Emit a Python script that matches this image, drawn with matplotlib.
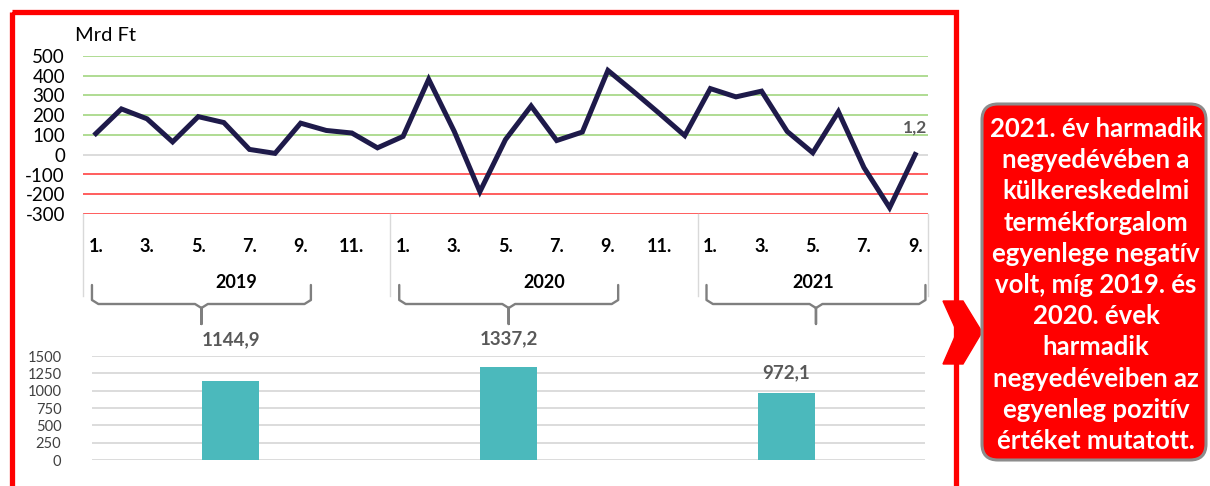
import numpy as np
import matplotlib.pyplot as plt
from matplotlib.patches import Rectangle, FancyBboxPatch, Polygon

plt.rcParams['font.family'] = ['Lato', 'DejaVu Sans']

# havi egyenleg, Mrd Ft (2019.01 - 2021.09)
years = ['2019', '2020', '2021']
months_per_year = [12, 12, 9]
balance = [107, 232, 182, 65, 193, 163, 27, 7, 160, 123, 110, 35,
           93, 382, 118, -187, 77, 247, 72, 115, 427, 320, 210, 97,
           335, 293, 322, 118, 10, 218, -65, -268, 1.2]
last_label = '1,2'

# harmadik negyedéves (I-III. né.) egyenleg
bar_values = [1144.9, 1337.2, 972.1]
bar_labels = ['1144,9', '1337,2', '972,1']
bar_label_offsets = [32, 20, 11]   # px, kézzel eltolt címkék

note = ('2021. év harmadik\nnegyedévében a\nkülkereskedelmi\ntermékforgalom\n'
        'egyenlege negatív\nvolt, míg 2019. és\n2020. évek\nharmadik\n'
        'negyedéveiben az\negyenleg pozitív\nértéket mutatott.')

W, H = 1210, 486
fig = plt.figure(figsize=(W / 100, H / 100), dpi=100)


def box(l, t, r, b):
    return [l / W, 1 - b / H, (r - l) / W, (b - t) / H]


# felső vonaldiagram
ax = fig.add_axes(box(83, 56, 928, 214))
x = np.arange(len(balance))
ax.set_xlim(-0.5, len(balance) - 0.5)
ax.set_ylim(-300, 500)
yt = np.arange(-300, 501, 100)
for v in yt:
    if v > 0:
        c = '#a9d98a'
    elif v == 0:
        c = '#d9d9d9'
    else:
        c = '#ff5050'
    ax.axhline(v, color=c, lw=1.3, zorder=1)
ax.plot(x, balance, color='#1e1a4a', lw=3.6, zorder=3, solid_joinstyle='miter')
ax.annotate(last_label, (x[-1], balance[-1]), xytext=(0, 14), textcoords='offset points',
            ha='center', va='bottom', fontsize=12.5, fontweight='bold', color='#595959')
ax.set_yticks(yt)
ax.set_yticklabels([str(v) for v in yt], fontsize=13.5)
ax.tick_params(axis='y', length=0, pad=13)
for s in ax.spines.values():
    s.set_visible(False)

# hónap és év tengely
ticks, labels, starts = [], [], []
pos = 0
for n in months_per_year:
    starts.append(pos)
    for m in range(1, n + 1, 2):
        ticks.append(pos + m - 1)
        labels.append(f'{m}.')
    pos += n
ax.set_xticks(ticks)
ax.set_xticklabels(labels, fontsize=13, fontweight='bold')
ax.tick_params(axis='x', length=0, pad=17)

trans = ax.get_xaxis_transform()
y_ax = lambda py: (214 - py) / 158
for s in starts + [pos]:
    ax.plot([s - 0.5, s - 0.5], [0, y_ax(296)], transform=trans, color='#d9d9d9',
            lw=1, clip_on=False)
for yr, s, n in zip(years, starts, months_per_year):
    ax.text(s + n / 2 - 0.5, y_ax(282), yr, transform=trans, ha='center', va='center',
            fontsize=13, fontweight='bold')
    # kapcsos zárójel az I-III. negyedév alatt
    x0, x1 = s - 0.15, s + 8.4
    xm = (x0 + x1) / 2
    r = 0.25
    bx = [x0, x0, x0 + r, xm - r, xm, xm, xm, xm + r, x1 - r, x1, x1]
    by = [285, 300, 304, 304, 308, 324, 308, 304, 304, 300, 285]
    ax.plot(bx, [y_ax(v) for v in by], transform=trans, color='#7f7f7f', lw=1.7,
            clip_on=False, solid_joinstyle='round', solid_capstyle='round')

ax.text(-0.8, y_ax(44), 'Mrd Ft', transform=trans, fontsize=14.5,
        ha='left', va='bottom')

# alsó oszlopdiagram
bx_ax = fig.add_axes(box(92, 356, 925, 460))
bx_ax.set_xlim(-0.5, 2.5)
bx_ax.set_ylim(0, 1500)
bt = np.arange(0, 1501, 250)
for v in bt:
    bx_ax.axhline(v, color='#d9d9d9', lw=1.3, zorder=1)
bx_ax.bar(np.arange(3), bar_values, width=0.205, color='#4bb9bc', zorder=2)
for i, (v, lab, off) in enumerate(zip(bar_values, bar_labels, bar_label_offsets)):
    bx_ax.annotate(lab, (i, v), xytext=(0, off * 0.72), textcoords='offset points',
                   ha='center', va='bottom', fontsize=13.5, fontweight='bold', color='#595959')
bx_ax.set_yticks(bt)
bx_ax.set_yticklabels([str(v) for v in bt], fontsize=10.5, color='#404040')
bx_ax.tick_params(axis='y', length=0, pad=22)
bx_ax.set_xticks([])
for s in bx_ax.spines.values():
    s.set_visible(False)

# keret, nyíl, szövegdoboz
ov = fig.add_axes([0, 0, 1, 1], facecolor='none')
ov.set_xlim(0, W)
ov.set_ylim(H, 0)
ov.axis('off')
ov.add_patch(Rectangle((11.5, 12), 944, 520, fill=False, edgecolor='#ff0000', lw=3.8,
                       clip_on=False))
ov.add_patch(Polygon([(943, 301), (963, 301), (982, 332), (963, 364), (943, 364), (957, 332)],
                     closed=True, color='#ff0000', clip_on=False))
ov.add_patch(FancyBboxPatch((982, 104), 224, 356, boxstyle='round,pad=0,rounding_size=16',
                            facecolor='#ff0000', edgecolor='#8c8c8c', lw=2.2))
ov.text(1096, 285, note, ha='center', va='center', color='white', fontsize=18.5,
        fontweight='bold', linespacing=1.36)

fig.savefig('out.png', dpi=100)
